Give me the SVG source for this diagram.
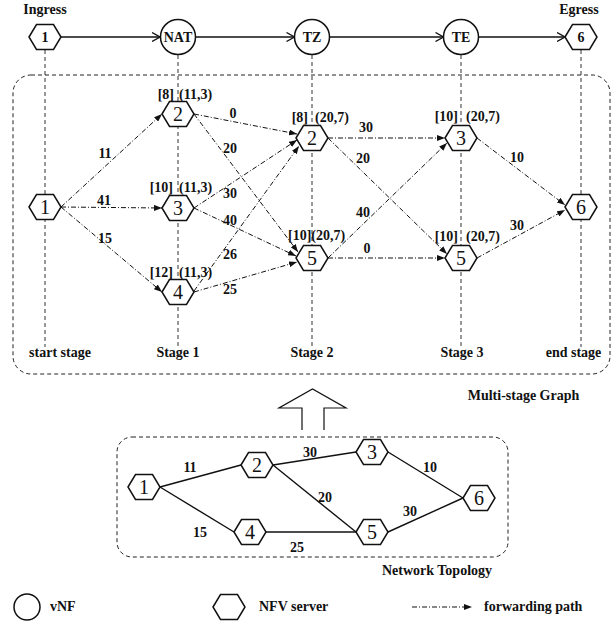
<svg xmlns="http://www.w3.org/2000/svg" xmlns:xlink="http://www.w3.org/1999/xlink" width="616" height="627" viewBox="0 0 616 627">
<style>
text{font-family:"Liberation Serif","Times New Roman",serif;fill:#111}
.b{font-weight:bold;font-size:14px}
.num{font-size:20px;text-anchor:middle}
.m{text-anchor:middle}
.e{text-anchor:end}
.hex{fill:#fff;stroke:#111;stroke-width:1.5}
.vnf{fill:#fff;stroke:#111;stroke-width:1.5}
.solid{stroke:#111;stroke-width:1.3;fill:none}
.vdash{stroke:#333;stroke-width:1;stroke-dasharray:4,3;fill:none}
.box{stroke:#222;stroke-width:1;stroke-dasharray:4,3;fill:none}
.fp{stroke:#111;stroke-width:1;stroke-dasharray:5,2,1,2;fill:none;marker-end:url(#ah)}
.topo{stroke:#111;stroke-width:1.4;fill:none}
</style>
<defs>
<polygon id="hex" points="-16,0 -8.5,-12.5 8.5,-12.5 16,0 8.5,12.5 -8.5,12.5"/>
<marker id="ah" markerUnits="userSpaceOnUse" viewBox="0 0 8 6" refX="8" refY="3" markerWidth="8" markerHeight="6" orient="auto">
<path d="M0,0 L8,3 L0,6 z" fill="#111"/>
</marker>
<marker id="oa" markerUnits="userSpaceOnUse" viewBox="0 0 9 10" refX="8.5" refY="5" markerWidth="9" markerHeight="10" orient="auto">
<path d="M0.5,0.5 L8.5,5 L0.5,9.5" fill="none" stroke="#111" stroke-width="1.3"/>
</marker>
</defs>

<!-- frames -->
<g id="frames">
<rect class="box" x="13" y="75" width="597" height="299" rx="18"/>
<text class="b" x="523.5" y="400" text-anchor="middle">Multi-stage Graph</text>
<rect class="box" x="117" y="437" width="391" height="120" rx="15"/>
<text class="b" x="437" y="575" text-anchor="middle">Network Topology</text>
<path id="bigarrow" d="M302,430 L302,408 L279,408 L312.5,389 L346,408 L324,408 L324,430" fill="#fff" stroke="#111" stroke-width="1.2"/>
</g>

<!-- vertical stage guides -->
<g id="stage-guides">
<line class="vdash" x1="45" y1="50" x2="45" y2="347"/>
<line class="vdash" x1="178" y1="55" x2="178" y2="347"/>
<line class="vdash" x1="312" y1="55" x2="312" y2="347"/>
<line class="vdash" x1="461" y1="55" x2="461" y2="347"/>
<line class="vdash" x1="581" y1="50" x2="581" y2="347"/>
<text class="b m" x="60" y="357">start stage</text>
<text class="b m" x="178" y="357">Stage 1</text>
<text class="b m" x="312" y="357">Stage 2</text>
<text class="b m" x="462" y="357">Stage 3</text>
<text class="b m" x="573.5" y="357">end stage</text>
</g>

<!-- connectors -->
<g id="connectors">
<!-- service chain -->
<line class="solid" x1="61" y1="37" x2="160" y2="37" marker-end="url(#oa)"/>
<line class="solid" x1="195.5" y1="37" x2="294.5" y2="37" marker-end="url(#oa)"/>
<line class="solid" x1="329.5" y1="37" x2="443.5" y2="37" marker-end="url(#oa)"/>
<line class="solid" x1="478.5" y1="37" x2="565" y2="37" marker-end="url(#oa)"/>
<!-- multi-stage forwarding paths -->
<line class="fp" x1="61" y1="207" x2="162" y2="114"/>
<line class="fp" x1="61" y1="207" x2="162" y2="208"/>
<line class="fp" x1="61" y1="207" x2="162" y2="292"/>
<line class="fp" x1="194" y1="114" x2="297" y2="134"/>
<line class="fp" x1="194" y1="114" x2="298" y2="252"/>
<line class="fp" x1="194" y1="208" x2="297" y2="140"/>
<line class="fp" x1="194" y1="208" x2="296" y2="256"/>
<line class="fp" x1="194" y1="291" x2="299" y2="146"/>
<line class="fp" x1="194" y1="292" x2="297" y2="262"/>
<line class="fp" x1="328" y1="138" x2="445" y2="138"/>
<line class="fp" x1="328" y1="138" x2="447" y2="254"/>
<line class="fp" x1="328" y1="258" x2="447" y2="143"/>
<line class="fp" x1="328" y1="258" x2="445" y2="258"/>
<line class="fp" x1="477" y1="138" x2="565" y2="205"/>
<line class="fp" x1="477" y1="258" x2="565" y2="210"/>
<!-- edge labels -->
<text class="b m" x="105" y="158">11</text>
<text class="b m" x="104" y="205">41</text>
<text class="b m" x="105" y="243">15</text>
<text class="b m" x="233" y="118">0</text>
<text class="b m" x="230" y="153">20</text>
<text class="b m" x="230" y="198">30</text>
<text class="b m" x="230" y="225">40</text>
<text class="b m" x="230" y="259">26</text>
<text class="b m" x="230" y="294">25</text>
<text class="b m" x="366" y="132">30</text>
<text class="b m" x="363" y="163">20</text>
<text class="b m" x="363" y="217">40</text>
<text class="b m" x="367" y="253">0</text>
<text class="b m" x="517" y="162">10</text>
<text class="b m" x="517" y="230">30</text>
<!-- topology links -->
<line class="topo" x1="160" y1="487" x2="241" y2="465"/>
<line class="topo" x1="273" y1="465" x2="356" y2="452"/>
<line class="topo" x1="388" y1="452" x2="463" y2="498"/>
<line class="topo" x1="160" y1="487" x2="234" y2="532"/>
<line class="topo" x1="273" y1="465" x2="356" y2="532"/>
<line class="topo" x1="266" y1="532" x2="356" y2="532"/>
<line class="topo" x1="388" y1="532" x2="463" y2="498"/>
<text class="b m" x="190" y="472">11</text>
<text class="b m" x="310" y="457">30</text>
<text class="b m" x="430" y="472">10</text>
<text class="b m" x="325" y="502">20</text>
<text class="b m" x="410" y="516">30</text>
<text class="b m" x="200" y="537">15</text>
<text class="b m" x="297" y="552">25</text>
</g>

<!-- top row nodes -->
<g id="ingress">
<use xlink:href="#hex" href="#hex" class="hex" x="45" y="37"/>
<text class="b m" x="45" y="42">1</text>
<text class="b m" x="45" y="14">Ingress</text>
</g>
<g id="nat"><circle class="vnf" cx="178" cy="37" r="17.5"/><text class="b m" x="178" y="42">NAT</text></g>
<g id="tz"><circle class="vnf" cx="312" cy="37" r="17.5"/><text class="b m" x="312" y="42">TZ</text></g>
<g id="te"><circle class="vnf" cx="461" cy="37" r="17.5"/><text class="b m" x="461" y="42">TE</text></g>
<g id="egress">
<use xlink:href="#hex" href="#hex" class="hex" x="581" y="37"/>
<text class="b m" x="581" y="42">6</text>
<text class="b m" x="579" y="14">Egress</text>
</g>

<!-- multi-stage nodes -->
<g id="ms-start-1"><use xlink:href="#hex" href="#hex" class="hex" x="45" y="207"/><text class="num" x="45" y="214">1</text></g>
<g id="ms-s1-2"><use xlink:href="#hex" href="#hex" class="hex" x="178" y="114"/><text class="num" x="178" y="121">2</text>
<text class="b e" x="174" y="99">[8]</text><text class="b" x="179" y="99">(11,3)</text></g>
<g id="ms-s1-3"><use xlink:href="#hex" href="#hex" class="hex" x="178" y="208"/><text class="num" x="178" y="215">3</text>
<text class="b e" x="173" y="192">[10]</text><text class="b" x="179" y="192">(11,3)</text></g>
<g id="ms-s1-4"><use xlink:href="#hex" href="#hex" class="hex" x="178" y="292"/><text class="num" x="178" y="299">4</text>
<text class="b e" x="173" y="277">[12]</text><text class="b" x="179" y="277">(11,3)</text></g>
<g id="ms-s2-2"><use xlink:href="#hex" href="#hex" class="hex" x="312" y="138"/><text class="num" x="312" y="145">2</text>
<text class="b e" x="308" y="122">[8]</text><text class="b" x="315" y="122">(20,7)</text></g>
<g id="ms-s2-5"><use xlink:href="#hex" href="#hex" class="hex" x="312" y="258"/><text class="num" x="312" y="265">5</text>
<text class="b" x="288" y="240">[10](20,7)</text></g>
<g id="ms-s3-3"><use xlink:href="#hex" href="#hex" class="hex" x="461" y="138"/><text class="num" x="461" y="145">3</text>
<text class="b e" x="458" y="121">[10]</text><text class="b" x="466" y="121">(20,7)</text></g>
<g id="ms-s3-5"><use xlink:href="#hex" href="#hex" class="hex" x="461" y="258"/><text class="num" x="461" y="265">5</text>
<text class="b e" x="458" y="241">[10]</text><text class="b" x="466" y="241">(20,7)</text></g>
<g id="ms-end-6"><use xlink:href="#hex" href="#hex" class="hex" x="581" y="207"/><text class="num" x="581" y="214">6</text></g>

<!-- topology nodes -->
<g id="t1"><use xlink:href="#hex" href="#hex" class="hex" x="144" y="487"/><text class="num" x="144" y="494">1</text></g>
<g id="t2"><use xlink:href="#hex" href="#hex" class="hex" x="257" y="465"/><text class="num" x="257" y="472">2</text></g>
<g id="t3"><use xlink:href="#hex" href="#hex" class="hex" x="372" y="452"/><text class="num" x="372" y="459">3</text></g>
<g id="t4"><use xlink:href="#hex" href="#hex" class="hex" x="250" y="532"/><text class="num" x="250" y="539">4</text></g>
<g id="t5"><use xlink:href="#hex" href="#hex" class="hex" x="372" y="532"/><text class="num" x="372" y="539">5</text></g>
<g id="t6"><use xlink:href="#hex" href="#hex" class="hex" x="479" y="498"/><text class="num" x="479" y="505">6</text></g>

<!-- legend -->
<g id="legend">
<circle class="vnf" cx="27" cy="607" r="13"/>
<text class="b" x="50" y="611">vNF</text>
<use xlink:href="#hex" href="#hex" class="hex" x="229" y="607"/>
<text class="b" x="259" y="611">NFV server</text>
<line class="fp" x1="412" y1="607" x2="472" y2="607"/>
<text class="b" x="484" y="611">forwarding path</text>
</g>
</svg>
